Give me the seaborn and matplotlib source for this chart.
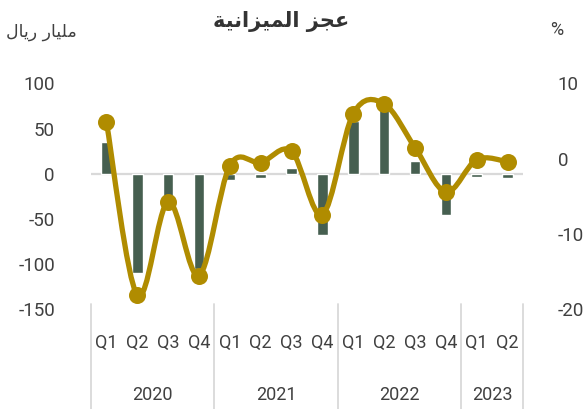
import numpy as np
import pandas as pd
import matplotlib
matplotlib.use("Agg")
import matplotlib.pyplot as plt
import matplotlib.transforms as mtransforms
from matplotlib.path import Path
from matplotlib.patches import PathPatch
import seaborn as sns

# ---------------- data ----------------
quarters = ["Q1", "Q2", "Q3", "Q4", "Q1", "Q2", "Q3", "Q4",
            "Q1", "Q2", "Q3", "Q4", "Q1", "Q2"]
years = ["2020", "2021", "2022", "2023"]
year_counts = [4, 4, 4, 2]
deficit_bn = [35, -110, -39, -105, -7, -5, 7, -68, 58, 77, 14, -46, -3, -5]
deficit_pct = [4.9, -18.1, -5.7, -15.5, -0.9, -0.5, 1.0, -7.4,
               6.0, 7.3, 1.5, -4.4, -0.1, -0.4]
left_ticks = [100, 50, 0, -50, -100, -150]
right_ticks = [10, 0, -10, -20]
title_text = "عجز الميزانية"
left_unit = "مليار ريال"
right_unit = "%"

BAR_COLOR = "#465f50"
LINE_COLOR = "#b08c00"
TEXT_COLOR = "#404040"
GRID_COLOR = "#d9d9d9"

# ---------- minimal Arabic shaping (presentation forms) ----------
FORMS = {  # iso, final, initial, medial
    "\u0627": ("\uFE8D", "\uFE8E", None, None),
    "\u062C": ("\uFE9D", "\uFE9E", "\uFE9F", "\uFEA0"),
    "\u0631": ("\uFEAD", "\uFEAE", None, None),
    "\u0632": ("\uFEAF", "\uFEB0", None, None),
    "\u0639": ("\uFEC9", "\uFECA", "\uFECB", "\uFECC"),
    "\u0644": ("\uFEDD", "\uFEDE", "\uFEDF", "\uFEE0"),
    "\u0645": ("\uFEE1", "\uFEE2", "\uFEE3", "\uFEE4"),
    "\u0646": ("\uFEE5", "\uFEE6", "\uFEE7", "\uFEE8"),
    "\u064A": ("\uFEF1", "\uFEF2", "\uFEF3", "\uFEF4"),
    "\u0629": ("\uFE93", "\uFE94", None, None),
}


def shape_ar(s):
    out = []
    n = len(s)
    for i, ch in enumerate(s):
        if ch not in FORMS:
            out.append(ch)
            continue
        prev = s[i - 1] if i > 0 else None
        nxt = s[i + 1] if i < n - 1 else None
        join_prev = prev in FORMS and FORMS[prev][2] is not None
        join_next = nxt in FORMS and FORMS[ch][2] is not None
        iso, fin, ini, med = FORMS[ch]
        if join_prev and join_next:
            out.append(med)
        elif join_prev:
            out.append(fin)
        elif join_next:
            out.append(ini)
        else:
            out.append(iso)
    return "".join(out)[::-1]


# ---------------- figure ----------------
sns.set_theme(style="white")
plt.rcParams["font.family"] = ["Roboto", "DejaVu Sans"]

W, H = 583, 409
fig = plt.figure(figsize=(W / 100, H / 100), dpi=100)
ax_l, ax_r, ax_t, ax_b = 91, 523, 83.5, 309.5
ax = fig.add_axes([ax_l / W, 1 - ax_b / H, (ax_r - ax_l) / W, (ax_b - ax_t) / H])

df = pd.DataFrame({"idx": np.arange(len(quarters)),
                   "bn": deficit_bn, "pct": deficit_pct})

ax.axhline(0, color=GRID_COLOR, lw=1.6, zorder=0)
sns.barplot(data=df, x="idx", y="bn", color=BAR_COLOR, width=0.34,
            saturation=1, ax=ax, zorder=2, native_scale=True)
ax.set_xlim(-0.5, len(quarters) - 0.5)
ax.set_ylim(-150, 100)
ax.set_yticks(left_ticks)
ax.set_yticklabels([str(v) for v in left_ticks])
ax.set_xticks(df["idx"])
ax.set_xticklabels([])
ax.tick_params(axis="y", length=0, pad=26, labelsize=13.5, colors=TEXT_COLOR)
ax.tick_params(axis="x", length=0)
ax.set_xlabel("")
ax.set_ylabel("")
for sp in ax.spines.values():
    sp.set_visible(False)

ax2 = ax.twinx()
ax2.set_ylim(-20, 10)
ax2.set_yticks(right_ticks)
ax2.set_yticklabels([str(v) for v in right_ticks])
ax2.tick_params(axis="y", length=0, pad=25, labelsize=13.5, colors=TEXT_COLOR)
for sp in ax2.spines.values():
    sp.set_visible(False)

# smooth line through the percentage points (Catmull-Rom -> cubic Bezier)
xs = df["idx"].to_numpy(dtype=float)
ys = df["pct"].to_numpy(dtype=float)
pts = np.column_stack([xs, ys])
verts = [tuple(pts[0])]
codes = [Path.MOVETO]
for i in range(len(pts) - 1):
    p0 = pts[i - 1] if i > 0 else pts[i]
    p1 = pts[i]
    p2 = pts[i + 1]
    p3 = pts[i + 2] if i + 2 < len(pts) else pts[i + 1]
    c1 = p1 + (p2 - p0) / 6.0
    c2 = p2 - (p3 - p1) / 6.0
    verts += [tuple(c1), tuple(c2), tuple(p2)]
    codes += [Path.CURVE4] * 3
ax2.add_patch(PathPatch(Path(verts, codes), facecolor="none",
                        edgecolor=LINE_COLOR, lw=3.8, capstyle="round",
                        joinstyle="round", zorder=3))
sns.scatterplot(data=df, x="idx", y="pct", ax=ax2, color=LINE_COLOR,
                s=150, edgecolor=LINE_COLOR, linewidth=0, zorder=4,
                legend=False)
ax2.set_xlim(-0.5, len(quarters) - 0.5)
ax2.set_xlabel("")
ax2.set_ylabel("")
ax2.set_xticks([])

# multi-level category axis
trans = mtransforms.blended_transform_factory(ax.transData, ax.transAxes)
h_ax = ax_b - ax_t
for i, q in enumerate(quarters):
    ax.text(i, -(343 - ax_b) / h_ax, q, transform=trans, ha="center",
            va="center", fontsize=13, color=TEXT_COLOR)
bounds = np.concatenate([[0], np.cumsum(year_counts)]) - 0.5
for b in bounds:
    ax.plot([b, b], [-(409 - ax_b) / h_ax, (ax_b - 304) / h_ax],
            transform=trans, color=GRID_COLOR, lw=1.3, clip_on=False)
for k, yr in enumerate(years):
    mid = (bounds[k] + bounds[k + 1]) / 2
    ax.text(mid, -(395 - ax_b) / h_ax, yr, transform=trans, ha="center",
            va="center", fontsize=13, color=TEXT_COLOR)

# titles
fig.text(281.5 / W, 1 - 21 / H, shape_ar(title_text), ha="center",
         va="center", fontsize=15, fontweight="bold", color="#333333",
         family=["DejaVu Sans"])
fig.text(6 / W, 1 - 32 / H, shape_ar(left_unit), ha="left", va="center",
         fontsize=12.5, color=TEXT_COLOR, family=["DejaVu Sans"])
fig.text(556.5 / W, 1 - 30 / H, right_unit, ha="center", va="center",
         fontsize=13, color=TEXT_COLOR)

fig.savefig("out.png", dpi=100)
